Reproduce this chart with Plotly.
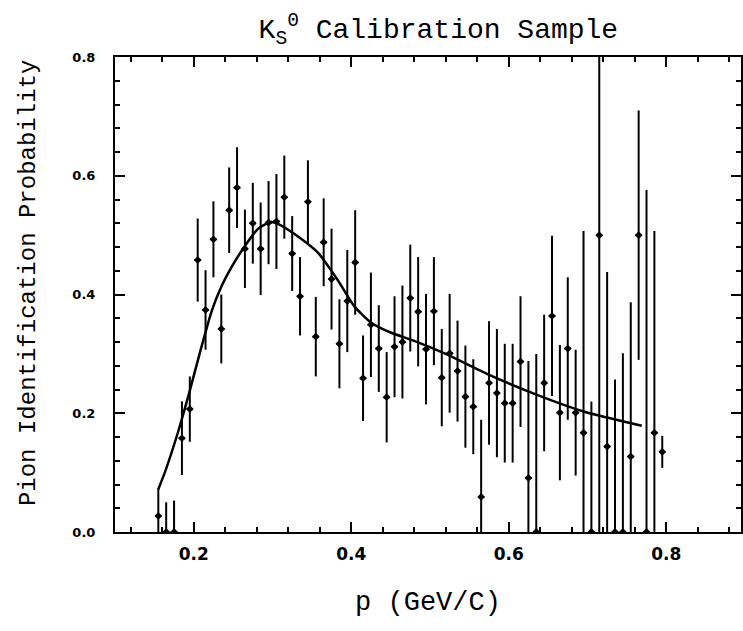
import plotly.graph_objects as go

# Measured pion identification probability per momentum bin (GeV/c)
p_bins = [0.155, 0.165, 0.175, 0.185, 0.195, 0.205, 0.215, 0.225, 0.235, 0.245,
          0.255, 0.265, 0.275, 0.285, 0.295, 0.305, 0.315, 0.325, 0.335, 0.345,
          0.355, 0.365, 0.375, 0.385, 0.395, 0.405, 0.415, 0.425, 0.435, 0.445,
          0.455, 0.465, 0.475, 0.485, 0.495, 0.505, 0.515, 0.525, 0.535, 0.545,
          0.555, 0.565, 0.575, 0.585, 0.595, 0.605, 0.615, 0.625, 0.635, 0.645,
          0.655, 0.665, 0.675, 0.685, 0.695, 0.705, 0.715, 0.725, 0.735, 0.745,
          0.755, 0.765, 0.775, 0.785, 0.795]

prob = [0.027, 0.0, 0.0, 0.158, 0.207, 0.458, 0.374, 0.493, 0.342, 0.542,
        0.580, 0.477, 0.520, 0.477, 0.521, 0.523, 0.564, 0.469, 0.397, 0.556,
        0.329, 0.488, 0.426, 0.317, 0.389, 0.454, 0.259, 0.349, 0.309, 0.227,
        0.312, 0.320, 0.394, 0.371, 0.308, 0.372, 0.260, 0.301, 0.271, 0.228,
        0.211, 0.059, 0.251, 0.234, 0.217, 0.217, 0.287, 0.091, 0.0, 0.251,
        0.364, 0.201, 0.309, 0.201, 0.167, 0.0, 0.500, 0.144, 0.0, 0.0,
        0.127, 0.500, 0.0, 0.167, 0.135]

prob_err = [0.047, 0.050, 0.053, 0.062, 0.055, 0.070, 0.067, 0.064, 0.058, 0.072,
            0.068, 0.066, 0.068, 0.078, 0.070, 0.080, 0.070, 0.063, 0.066, 0.070,
            0.067, 0.074, 0.085, 0.075, 0.086, 0.088, 0.072, 0.088, 0.073, 0.076,
            0.085, 0.095, 0.090, 0.092, 0.093, 0.091, 0.082, 0.100, 0.085, 0.086,
            0.080, 0.130, 0.104, 0.108, 0.100, 0.100, 0.110, 0.197, 0.300, 0.115,
            0.135, 0.114, 0.120, 0.106, 0.340, 0.220, 0.500, 0.294, 0.257, 0.301,
            0.260, 0.210, 0.576, 0.340, 0.027]

bin_half_width = [0.004] * len(p_bins)

# Fitted curve
fit_p = [0.155, 0.164, 0.180, 0.195, 0.208, 0.223, 0.235, 0.248, 0.263, 0.282,
         0.298, 0.307, 0.332, 0.358, 0.383, 0.404, 0.425, 0.450, 0.480, 0.520,
         0.573, 0.636, 0.695, 0.769]
fit_prob = [0.072, 0.103, 0.168, 0.238, 0.303, 0.373, 0.413, 0.446, 0.478, 0.511,
            0.522, 0.519, 0.498, 0.470, 0.424, 0.380, 0.353, 0.336, 0.322, 0.300,
            0.266, 0.231, 0.203, 0.179]

x_ticks = [0.2, 0.4, 0.6, 0.8]
x_ticktext = ["0.2", "0.4", "0.6", "0.8"]
y_ticks = [0.0, 0.2, 0.4, 0.6, 0.8]
y_ticktext = ["0.0", "0.2", "0.4", "0.6", "0.8"]

fig = go.Figure()

fig.add_trace(go.Scatter(
    x=p_bins, y=prob, mode="markers",
    marker=dict(symbol="diamond", size=6, color="black"),
    error_y=dict(type="data", array=prob_err, visible=True,
                 color="black", thickness=2, width=0),
    error_x=dict(type="data", array=bin_half_width, visible=True,
                 color="black", thickness=2, width=0),
    showlegend=False,
))

fig.add_trace(go.Scatter(
    x=fit_p, y=fit_prob, mode="lines",
    line=dict(color="black", width=2.5, shape="spline", smoothing=0.6),
    showlegend=False,
))

serif_mono = "Liberation Mono, Courier New, monospace"
tick_font_x = dict(family="DejaVu Sans, Arial, sans-serif", size=17, color="black", weight="bold")
tick_font_y = dict(family="DejaVu Sans, Arial, sans-serif", size=13, color="black", weight="bold")

fig.update_layout(
    width=743, height=631,
    margin=dict(l=115, r=0, t=57, b=99),
    paper_bgcolor="white", plot_bgcolor="white",
    title=dict(
        text="K<sub>S</sub><sup>0</sup> Calibration Sample",
        x=0.59, xanchor="center", y=0.955, yanchor="middle", yref="container",
        font=dict(family=serif_mono, size=28, color="black"),
    ),
    xaxis=dict(
        range=[0.1, 0.895],
        tickvals=x_ticks, ticktext=x_ticktext,
        ticks="inside", ticklen=10, tickwidth=1.5, tickcolor="black",
        minor=dict(dtick=0.04, tick0=0.0, ticks="inside", ticklen=5,
                   tickwidth=1.5, tickcolor="black"),
        showline=True, linecolor="black", linewidth=2, mirror="ticks",
        showgrid=False, zeroline=False,
        tickfont=tick_font_x, ticklabelstandoff=6,
        title=dict(text="p (GeV/C)", standoff=28,
                   font=dict(family=serif_mono, size=27, color="black")),
    ),
    yaxis=dict(
        range=[0.0, 0.8],
        tickvals=y_ticks, ticktext=y_ticktext,
        ticks="inside", ticklen=10, tickwidth=1.5, tickcolor="black",
        minor=dict(dtick=0.04, tick0=0.0, ticks="inside", ticklen=5,
                   tickwidth=1.5, tickcolor="black"),
        showline=True, linecolor="black", linewidth=2, mirror="ticks",
        showgrid=False, zeroline=False,
        tickfont=tick_font_y, ticklabelstandoff=15,
    ),
    annotations=[dict(
        text="Pion Identification Probability",
        xref="paper", yref="paper", x=-0.139, y=0.524,
        xanchor="center", yanchor="middle", textangle=-90, showarrow=False,
        font=dict(family=serif_mono, size=24, color="black"),
    )],
)

fig.write_html("out.html")
